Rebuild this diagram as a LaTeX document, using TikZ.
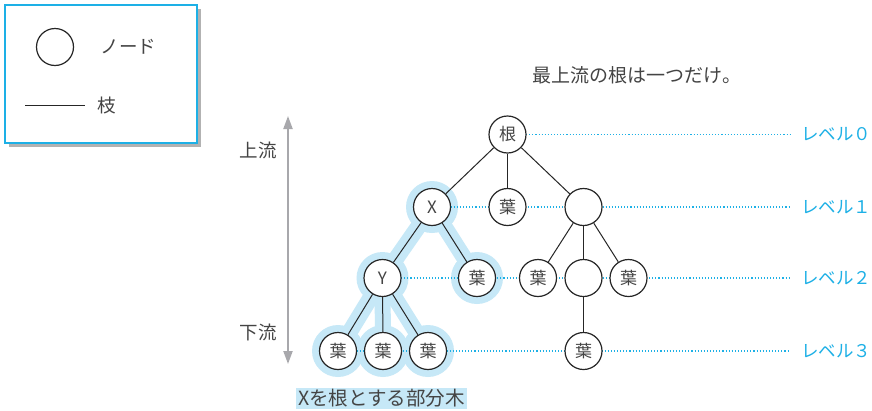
\documentclass[tikz,border=0pt]{standalone}
\usepackage{fontspec}
\setmainfont{Noto Sans CJK JP}
\usetikzlibrary{arrows.meta,backgrounds}
\definecolor{cyanline}{HTML}{1DB0E6}
\definecolor{hilite}{HTML}{C6E8F7}
\definecolor{txtgray}{HTML}{444444}
\definecolor{arrgray}{HTML}{A8A8AC}
\tikzset{
  tn/.style={circle,draw=black!85,line width=1.2pt,fill=white,minimum size=37pt,inner sep=0pt,font=\fontsize{17}{17}\selectfont,text=txtgray},
  br/.style={draw=black!85,line width=1pt},
  lvl/.style={draw=cyanline,line width=1.1pt,dotted},
  lvltxt/.style={anchor=west,inner sep=0pt,text=cyanline,font=\fontsize{17.5}{17.5}\selectfont},
  lab/.style={text=txtgray,font=\fontsize{18.5}{18.5}\selectfont},
  hl/.style={draw=hilite,line width=16pt,line cap=round},
}
\begin{document}
\begin{tikzpicture}[x=1pt,y=-1pt]
\useasboundingbox (0,0) rectangle (872,410);
\begin{scope}[on background layer]
  \fill[white] (0,0) rectangle (872,410);
\end{scope}
% legend
\fill[black!30] (9,9) rectangle (201,147);
\draw[cyanline,line width=1.2pt,fill=white] (5,5) rectangle (197,143);
\node[tn] (lgn) at (55,47) {};
\node[lab,anchor=west] (lgnt) at (97,47) {ノード};
\coordinate (lga) at (25,105);
\coordinate (lgb) at (85,105);
\draw[br] (lga) -- (lgb);
\node[lab,anchor=west] (lgbt) at (94,105) {枝};
% arrow
\coordinate (au) at (288,116);
\coordinate (ad) at (288,364);
\draw[arrgray,line width=2pt,{Triangle[length=13pt,width=9pt]}-{Triangle[length=13pt,width=9pt]}] (au) -- (ad);
\node[lab] (up) at (258,150) {上流};
\node[lab] (down) at (258,332) {下流};
% title
\node[lab,font=\fontsize{19}{19}\selectfont] (title) at (637,75) {最上流の根は一つだけ。};
% highlight and level lines (drawn under nodes)
\coordinate (pr) at (507.5,134.5);
\coordinate (px) at (432,207);
\coordinate (py) at (382.5,278);
\coordinate (pl2) at (477,278);
\coordinate (pa1) at (338,351);
\coordinate (pa2) at (383,351);
\coordinate (pa3) at (428,351);
\draw[hl] (px) -- (py);
\draw[hl] (px) -- (pl2);
\draw[hl] (py) -- (pa1);
\draw[hl] (py) -- (pa2);
\draw[hl] (py) -- (pa3);
\foreach \n in {px,py,pl2,pa1,pa2,pa3} \fill[hilite] (\n) circle (26);
\coordinate (z0) at (790,134.5);
\coordinate (z1) at (790,207);
\coordinate (z2) at (790,278);
\coordinate (z3) at (790,351);
\draw[lvl] (pr) -- (z0);
\draw[lvl] (px) -- (z1);
\draw[lvl] (py) -- (z2);
\draw[lvl] (pa1) -- (z3);
% nodes
\node[tn] (r) at (pr) {根};
\node[tn] (x) at (px) {X};
\node[tn] (l1) at (507.5,207) {葉};
\node[tn] (e1) at (583.5,207) {};
\node[tn] (y) at (py) {Y};
\node[tn] (l2) at (pl2) {葉};
\node[tn] (l3) at (538,278) {葉};
\node[tn] (e2) at (583.5,278) {};
\node[tn] (l4) at (628.5,278) {葉};
\node[tn] (a1) at (pa1) {葉};
\node[tn] (a2) at (pa2) {葉};
\node[tn] (a3) at (pa3) {葉};
\node[tn] (l5) at (583.5,351) {葉};
% branches
\draw[br] (r) -- (x);
\draw[br] (r) -- (l1);
\draw[br] (r) -- (e1);
\draw[br] (x) -- (y);
\draw[br] (x) -- (l2);
\draw[br] (y) -- (a1);
\draw[br] (y) -- (a2);
\draw[br] (y) -- (a3);
\draw[br] (e1) -- (l3);
\draw[br] (e1) -- (e2);
\draw[br] (e1) -- (l4);
\draw[br] (e2) -- (l5);
% level labels
\node[lvltxt] (t0) at (801,134.5) {レベル０};
\node[lvltxt] (t1) at (801,207) {レベル１};
\node[lvltxt] (t2) at (801,278) {レベル２};
\node[lvltxt] (t3) at (801,351) {レベル３};
% subtree label
\node[fill=hilite,text=txtgray,inner xsep=2pt,inner ysep=1pt,font=\fontsize{19.5}{19.5}\selectfont,anchor=west] (sub) at (296,398.5) {Xを根とする部分木};
\end{tikzpicture}
\end{document}
